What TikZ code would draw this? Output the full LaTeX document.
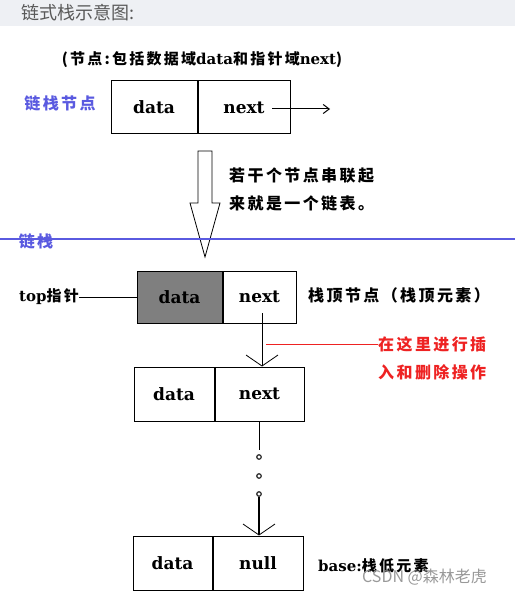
\documentclass[tikz,border=0pt]{standalone}
\usepackage{fontspec}
\setmainfont{DejaVu Serif}
\newfontfamily\cjk[LetterSpace=15]{Noto Sans CJK SC}
\newfontfamily\cjkplain{Noto Sans CJK SC}
\usepackage{tikz}
\usetikzlibrary{positioning,arrows.meta}

\definecolor{headgray}{HTML}{EEF0F4}
\definecolor{stackblue}{HTML}{5A5AE0}
\definecolor{hintred}{HTML}{EE2222}
\definecolor{topgray}{HTML}{7F7F7F}

\tikzset{
  cell/.style={draw, line width=1pt, minimum height=53, inner sep=0pt, font=\bfseries\fontsize{17}{20}\selectfont},
  note/.style={inner sep=0pt, font=\cjk\bfseries\fontsize{16}{28}\selectfont, align=left},
  small note/.style={inner sep=0pt, font=\cjk\bfseries\fontsize{15}{17}\selectfont},
  link/.style={line width=1pt},
  barb/.style={link, -{Straight Barb[length=11pt,width=32pt,line width=0.8pt]}},
}
\newcommand{\lat}[1]{{\fontspec{DejaVu Serif}\bfseries #1}}

\begin{document}
\begin{tikzpicture}[x=1pt,y=-1pt]
    \useasboundingbox (0,0) rectangle (515,593);
    % header band
    \fill[headgray] (0,0) rectangle (515,26);
    \node[anchor=west, inner sep=0pt, text=black!65, font=\cjkplain\fontsize{18}{20}\selectfont] (head) at (21,13) {链式栈示意图:};

    % one node, explained
    \node[small note] (legend) at (202,60) {(节点:包括数据域\lat{data}和指针域\lat{next})};
    \node[note, text=stackblue] (nodename) at (60,103) {链栈节点};
    \node[cell, minimum width=86] (d0) at (154,107.5) {data};
    \node[cell, minimum width=92, right=0pt of d0] (n0) {next};
    \coordinate (a0) at (272,109);
    \coordinate (a1) at (330,109);
    \draw[link, -{Straight Barb[length=6pt,width=9pt]}] (a0) -- (a1);

    % hollow arrow
    \draw[line width=0.8pt] (198,151) -- (212,151) -- (212,203) -- (220,203) -- (205,257) -- (190,203) -- (198,203) -- cycle;
    \node[note, anchor=west] (chain) at (229,189) {若干个节点串联起\\来就是一个链表。};

    % divider
    \draw[stackblue, line width=1.3pt] (0,239) -- (515,239);
    \node[note, text=stackblue] (stackname) at (36,241) {链栈};

    % top node
    \node[cell, minimum width=85, minimum height=52, fill=topgray] (d1) at (179.5,297) {data};
    \node[cell, minimum width=73, minimum height=52, right=0pt of d1] (n1) {next};
    \node[small note] (top) at (49,297) {\lat{top}指针};
    \draw[link] (top.east) -- (d1.west);
    \node[note, anchor=west] (toplabel) at (308,295) {栈顶节点（栈顶元素）};
    \coordinate (p1) at (262,313);

    % second node
    \node[cell, minimum width=80, minimum height=54] (d2) at (174,394) {data};
    \node[cell, minimum width=89, minimum height=54, right=0pt of d2] (n2) {next};
    \draw[barb] (p1) -- (p1 |- n2.north);
    \node[note, text=hintred, anchor=west] (hint) at (378,358.5) {在这里进行插\\入和删除操作};
    \coordinate (r0) at (266,344);
    \draw[hintred, link] (r0) -- (hint.west |- r0);

    % bottom node
    \node[cell, minimum width=79, minimum height=54] (d3) at (172.5,563) {data};
    \node[cell, minimum width=90, minimum height=54, right=0pt of d3] (n3) {null};
    \coordinate (q1) at (259,450);
    \draw[link] (n2.south -| q1) -- (q1);
    \foreach \y [count=\i] in {457,476,494}
        \node[draw=black!85, line width=1.2pt, circle, inner sep=0pt, minimum size=4.5] (dot\i) at (259,\y) {};
    \draw[barb, line width=1.3pt] (dot3) -- (dot3 |- n3.north);
    \node[small note, anchor=west] (base) at (318,566) {\lat{base:}栈低元素};

    % watermark
    \node[anchor=west, inner sep=0pt, text=black!40, font=\cjkplain\fontsize{16}{18}\selectfont] (mark) at (362,577) {CSDN @森林老虎};
\end{tikzpicture}
\end{document}
